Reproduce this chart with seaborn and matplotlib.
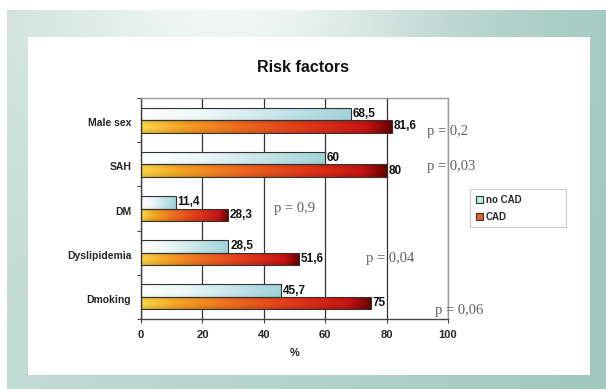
import numpy as np
import pandas as pd
import matplotlib
matplotlib.use("Agg")
import matplotlib.pyplot as plt
import matplotlib.transforms as mtransforms
import seaborn as sns
from matplotlib.colors import LinearSegmentedColormap
from matplotlib.patches import Patch, Rectangle

# data
categories = ["Male sex", "SAH", "DM", "Dyslipidemia", "Dmoking"]
no_cad     = [68.5, 60, 11.4, 28.5, 45.7]
cad        = [81.6, 80, 28.3, 51.6, 75]
p_values   = ["0,2", "0,03", "0,9", "0,04", "0,06"]
x_ticks    = [0, 20, 40, 60, 80, 100]

# where the p-value notes sit (data coords)
P_POS = [(93.2, 0.25), (93.0, 1.05), (43.2, 2.0), (73.4, 3.14), (95.7, 4.3)]

W, H = 606, 389
SANS = ["Liberation Sans", "DejaVu Sans"]

sns.set_theme(style="white")
plt.rcParams["font.family"] = SANS

df = pd.DataFrame({
    "factor": categories * 2,
    "value": no_cad + cad,
    "group": ["no CAD"] * len(categories) + ["CAD"] * len(categories),
})

fig = plt.figure(figsize=(W / 100, H / 100), dpi=100)

# background: teal gradient with a light patch near the top
bg = fig.add_axes([0, 0, 1, 1], zorder=-2)
yy, xx = np.mgrid[0:H, 0:W]
xn, yn = xx / W, yy / H
t = 0.53 + 0.42 * xn + 0.05 * yn - 0.7 * np.exp(-((xn - 0.4) ** 2 / 0.1 + yn ** 2 / 0.245))
t = np.clip(t, 0, 1)[..., None]
light, teal = np.array([0.95, 0.965, 0.96]), np.array([0.63, 0.785, 0.745])
img = light * (1 - t) + teal * t
img[:10, :] = 1.0
img[:, :7] = 1.0
bg.imshow(img, extent=[0, 1, 0, 1], aspect="auto")
bg.axis("off")
fig.patches.append(Rectangle((28 / W, 1 - 375 / H), 562 / W, 338 / H,
                             transform=fig.transFigure, facecolor="white",
                             edgecolor="none", zorder=-1))

ax = fig.add_axes([141 / W, 1 - 319 / H, 307 / W, 221 / H])
ax.set_facecolor("none")
sns.barplot(data=df, x="value", y="factor", hue="group", orient="h",
            order=categories, hue_order=["no CAD", "CAD"],
            palette=["#bfe6ea", "#e8601c"], width=0.57, ax=ax,
            edgecolor="#333333", linewidth=0.8, legend=False)

# gradient fills clipped to the bars
cmaps = [
    LinearSegmentedColormap.from_list("nocad", [(0, "#ffffff"), (0.3, "#eef8f9"), (1, "#9fd3da")]),
    LinearSegmentedColormap.from_list("cad", [(0, "#f9d84a"), (0.15, "#f6a623"), (0.4, "#ef6a1e"),
                                              (0.65, "#e23a1a"), (0.9, "#c81414"), (1, "#6a0000")]),
]
grad = np.tile(np.linspace(0, 1, 256), (32, 1))
v = np.linspace(0, 1, 32)[:, None, None]
for k, cont in enumerate(ax.containers):
    rgba = cmaps[k](grad)
    shade = 0.86 + 0.14 * np.sin(np.pi * v) if k == 1 else 0.97 + 0.03 * np.sin(np.pi * v)
    rgba[..., :3] *= shade
    for bar in cont:
        x0, y0, w, h = bar.get_x(), bar.get_y(), bar.get_width(), bar.get_height()
        im = ax.imshow(rgba, extent=[x0, x0 + w, y0 + h, y0], aspect="auto",
                       interpolation="bilinear", zorder=2)
        im.set_clip_path(bar)
        bar.set_facecolor("none")
        bar.set_zorder(3)

labels = [[f"{val:g}".replace(".", ",") for val in vals] for vals in (no_cad, cad)]
for cont, lab in zip(ax.containers, labels):
    ax.bar_label(cont, labels=lab, padding=1.2, fontsize=8.5, fontweight="bold", color="#111111")

for (px, py), p in zip(P_POS, p_values):
    ax.text(px, py, f"p = {p}", family=["Liberation Serif", "DejaVu Serif"],
            fontsize=10.5, color="#5e5e5e", va="center", ha="left")

ax.set_xlim(0, 100)
ax.set_ylim(4.5, -0.5)
ax.set_aspect("auto")
ax.set_xticks(x_ticks)
ax.set_xticklabels([str(x) for x in x_ticks], fontsize=8, fontweight="bold")
ax.set_yticks(range(len(categories)))
ax.set_yticklabels(categories, fontsize=7.5, fontweight="bold")
ax.set_yticks(np.arange(-0.5, len(categories)), minor=True)
ax.tick_params(axis="y", which="major", length=0, pad=7)
ax.tick_params(axis="y", which="minor", length=3, width=0.8, color="#444444", direction="out", left=True)
ax.tick_params(axis="x", length=3, width=0.8, color="#444444", direction="out", bottom=True, pad=5)
ax.set_ylabel("")
ax.set_xlabel("%", fontsize=8, fontweight="bold", labelpad=6)
nudge = mtransforms.ScaledTranslation(0, -2 / 100, fig.dpi_scale_trans)
for lbl in ax.get_yticklabels():
    lbl.set_transform(lbl.get_transform() + nudge)

ax.set_axisbelow(True)
ax.xaxis.grid(True, color="#333333", linewidth=0.9)
ax.yaxis.grid(False)
for side in ["left", "bottom"]:
    ax.spines[side].set_color("#444444")
    ax.spines[side].set_linewidth(1.0)
for side in ["top", "right"]:
    ax.spines[side].set_visible(True)
    ax.spines[side].set_color("#9a9a9a")
    ax.spines[side].set_linewidth(1.0)

fig.text(303 / W, 1 - 68 / H, "Risk factors", ha="center", va="center",
         fontsize=11.5, fontweight="bold", color="#111111")

handles = [Patch(facecolor="#bfe6ea", edgecolor="#333333", linewidth=0.8),
           Patch(facecolor="#e8601c", edgecolor="#333333", linewidth=0.8)]
leg = fig.legend(handles, ["no CAD", "CAD"], loc="upper left",
                 bbox_to_anchor=(470 / W, 1 - 227 / H, 96 / W, 38 / H), mode="expand",
                 prop={"weight": "bold", "size": 7}, handlelength=0.7, handleheight=0.8,
                 handletextpad=0.3, labelspacing=0.7, borderpad=0.6, borderaxespad=0,
                 fancybox=False, frameon=True)
leg.get_frame().set_edgecolor("#bdbdbd")
leg.get_frame().set_linewidth(0.8)

fig.savefig("out.png", dpi=100)
